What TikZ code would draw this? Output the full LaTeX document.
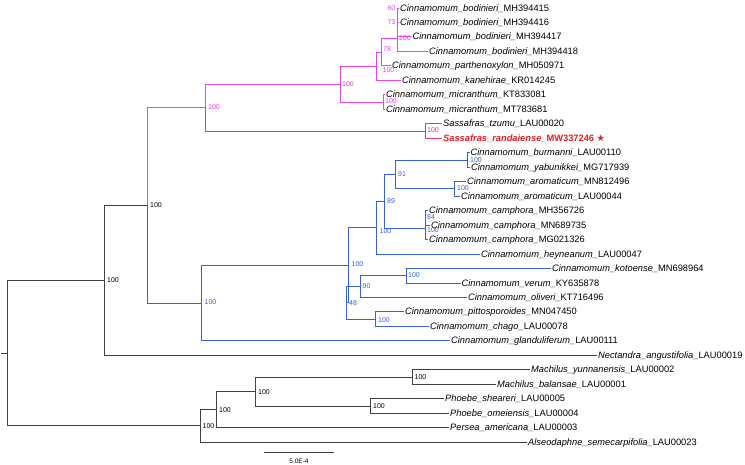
\documentclass[tikz,border=0pt]{standalone}
\usepackage{fontspec}
\setmainfont{Liberation Sans}
\newfontfamily\starfont{DejaVu Sans}
\definecolor{pinkc}{RGB}{238,64,220}
\definecolor{redc}{RGB}{236,56,96}
\definecolor{redtext}{RGB}{228,30,36}
\definecolor{bluec}{RGB}{56,96,216}
\definecolor{grayc}{RGB}{64,64,64}
\newcommand\taxon[2]{\textit{#1\_}#2}
\begin{document}
\begin{tikzpicture}[x=1pt,y=-1pt,
  br/.style={line width=1.25pt, draw=grayc, line cap=rect},
  pinkbr/.style={br, draw=pinkc},
  redbr/.style={br, draw=redc},
  bluebr/.style={br, draw=bluec},
  leaf/.style={anchor=west, inner xsep=1.5pt, inner ysep=0pt, font=\fontsize{9.3}{10}\selectfont, text height=6.7pt, text depth=0pt},
  nl/.style={anchor=west, inner sep=0pt, font=\fontsize{7}{8}\selectfont, text height=5pt, text depth=0pt},
  nlr/.style={nl, anchor=east},
  pl/.style={nl, text=pinkc},
  rl/.style={nl, text=redc},
  bl/.style={nl, text=bluec}]
\fill[white] (0,0) rectangle (745,465);
\useasboundingbox (0,0) rectangle (745,465);
% internal nodes
\coordinate (r0) at (1.5,353.5);
\coordinate (nR) at (7.5,353.5);
\coordinate (nB) at (104.5,280.5);
\coordinate (nC) at (147.5,205.5);
\coordinate (nD) at (205.5,107.5);
\coordinate (nF) at (340.5,84.5);
\coordinate (nG) at (376.5,66.5);
\coordinate (nH) at (381.5,52.5);
\coordinate (nI) at (397.5,38.5);
\coordinate (nM) at (383.5,102.5);
\coordinate (nS) at (425.5,131.5);
\coordinate (nE) at (201.5,303.5);
\coordinate (nP) at (348.5,265.5);
\coordinate (nK) at (376.5,227.5);
\coordinate (n89) at (384.5,201.5);
\coordinate (n91) at (395.5,174.5);
\coordinate (nBu) at (467.5,160.5);
\coordinate (nAr) at (454.5,188.5);
\coordinate (nCa) at (425.5,228.5);
\coordinate (nQ) at (346.5,302.5);
\coordinate (n90) at (360.5,286.5);
\coordinate (nKV) at (406.5,275.5);
\coordinate (nPC) at (375.5,319.5);
\coordinate (nL) at (200.5,425.5);
\coordinate (nL2) at (216.5,409.5);
\coordinate (nL3) at (255.5,391.5);
\coordinate (nMA) at (412.5,377.5);
\coordinate (nPH) at (370.5,406.5);
% leaves
\node[leaf] (t0) at (398.5,8.5) {\taxon{Cinnamomum\_bodinieri}{MH394415}};
\node[leaf] (t1) at (398.5,22.5) {\taxon{Cinnamomum\_bodinieri}{MH394416}};
\node[leaf] (t2) at (411,36.5) {\taxon{Cinnamomum\_bodinieri}{MH394417}};
\node[leaf] (t3) at (427.5,51.5) {\taxon{Cinnamomum\_bodinieri}{MH394418}};
\node[leaf] (t4) at (390.5,65.5) {\taxon{Cinnamomum\_parthenoxylon}{MH050971}};
\node[leaf] (t5) at (400.5,80.5) {\taxon{Cinnamomum\_kanehirae}{KR014245}};
\node[leaf] (t6) at (384.5,94.5) {\taxon{Cinnamomum\_micranthum}{KT833081}};
\node[leaf] (t7) at (384.5,109.5) {\taxon{Cinnamomum\_micranthum}{MT783681}};
\node[leaf] (t8) at (441.5,123.5) {\taxon{Sassafras\_tzumu}{LAU00020}};
\node[leaf, text=redtext] (t9) at (441.5,138.5) {\textbf{\taxon{Sassafras\_randaiense}{MW337246}} {\starfont ★}};
\node[leaf] (t10) at (469,152.5) {\taxon{Cinnamomum\_burmanni}{LAU00110}};
\node[leaf] (t11) at (469.5,167.5) {\taxon{Cinnamomum\_yabunikkei}{MG717939}};
\node[leaf] (t12) at (465.5,181.5) {\taxon{Cinnamomum\_aromaticum}{MN812496}};
\node[leaf] (t13) at (459.5,196.5) {\taxon{Cinnamomum\_aromaticum}{LAU00044}};
\node[leaf] (t14) at (427.5,210.5) {\taxon{Cinnamomum\_camphora}{MH356726}};
\node[leaf] (t15) at (429.5,225.5) {\taxon{Cinnamomum\_camphora}{MN689735}};
\node[leaf] (t16) at (427.5,239.5) {\taxon{Cinnamomum\_camphora}{MG021326}};
\node[leaf] (t17) at (479.5,254.5) {\taxon{Cinnamomum\_heyneanum}{LAU00047}};
\node[leaf] (t18) at (550.5,268.5) {\taxon{Cinnamomum\_kotoense}{MN698964}};
\node[leaf] (t19) at (460,283.5) {\taxon{Cinnamomum\_verum}{KY635878}};
\node[leaf] (t20) at (466.5,297.5) {\taxon{Cinnamomum\_oliveri}{KT716496}};
\node[leaf] (t21) at (403.5,311.5) {\taxon{Cinnamomum\_pittosporoides}{MN047450}};
\node[leaf] (t22) at (428.5,326.5) {\taxon{Cinnamomum\_chago}{LAU00078}};
\node[leaf] (t23) at (449.5,340.5) {\taxon{Cinnamomum\_glanduliferum}{LAU00111}};
\node[leaf] (t24) at (596.5,355.5) {\taxon{Nectandra\_angustifolia}{LAU00019}};
\node[leaf] (t25) at (529.5,369.5) {\taxon{Machilus\_yunnanensis}{LAU00002}};
\node[leaf] (t26) at (495.5,384.5) {\taxon{Machilus\_balansae}{LAU00001}};
\node[leaf] (t27) at (443.5,398.5) {\taxon{Phoebe\_sheareri}{LAU00005}};
\node[leaf] (t28) at (448.5,413.5) {\taxon{Phoebe\_omeiensis}{LAU00004}};
\node[leaf] (t29) at (448.5,427.5) {\taxon{Persea\_americana}{LAU00003}};
\node[leaf] (t30) at (526.5,442.5) {\taxon{Alseodaphne\_semecarpifolia}{LAU00023}};
% branches: backbone
\draw[br] (r0) -- (nR);
\draw[br] (nR) |- (nB);
\draw[br] (nR) |- (nL);
\draw[br] (nB) |- (nC);
\draw[br] (nB) |- (t24.west);
\draw[pinkbr] (nC) |- (nD);
\draw[bluebr] (nC) |- (nE);
% pink clade
\draw[pinkbr] (nD) |- (nF);
\draw[redbr] (nD) |- (nS);
\draw[redbr] (nS) |- (t8.west);
\draw[redbr] (nS) |- (t9.west);
\draw[pinkbr] (nF) |- (nG);
\draw[pinkbr] (nF) |- (nM);
\draw[pinkbr] (nG) |- (nH);
\draw[pinkbr] (nG) |- (t5.west);
\draw[pinkbr] (nH) |- (nI);
\draw[pinkbr] (nH) |- (t4.west);
\draw[pinkbr] (nI) |- (t0.west);
\draw[pinkbr] (nI) |- (t1.west);
\draw[pinkbr] (nI) |- (t2.west);
\draw[pinkbr] (nI) |- (t3.west);
\draw[pinkbr] (nM) |- (t6.west);
\draw[pinkbr] (nM) |- (t7.west);
% blue clade
\draw[bluebr] (nE) |- (nP);
\draw[bluebr] (nE) |- (t23.west);
\draw[bluebr] (nP) |- (nK);
\draw[bluebr] (nP) |- (nQ);
\draw[bluebr] (nK) |- (n89);
\draw[bluebr] (nK) |- (t17.west);
\draw[bluebr] (n89) |- (n91);
\draw[bluebr] (n89) |- (nCa);
\draw[bluebr] (n91) |- (nBu);
\draw[bluebr] (n91) |- (nAr);
\draw[bluebr] (nBu) |- (t10.west);
\draw[bluebr] (nBu) |- (t11.west);
\draw[bluebr] (nAr) |- (t12.west);
\draw[bluebr] (nAr) |- (t13.west);
\draw[bluebr] (nCa) |- (t14.west);
\draw[bluebr] (nCa) |- (t15.west);
\draw[bluebr] (nCa) |- (t16.west);
\draw[bluebr] (nQ) |- (n90);
\draw[bluebr] (nQ) |- (nPC);
\draw[bluebr] (n90) |- (nKV);
\draw[bluebr] (n90) |- (t20.west);
\draw[bluebr] (nKV) |- (t18.west);
\draw[bluebr] (nKV) |- (t19.west);
\draw[bluebr] (nPC) |- (t21.west);
\draw[bluebr] (nPC) |- (t22.west);
% outgroup clade
\draw[br] (nL) |- (nL2);
\draw[br] (nL) |- (t30.west);
\draw[br] (nL2) |- (nL3);
\draw[br] (nL2) |- (t29.west);
\draw[br] (nL3) |- (nMA);
\draw[br] (nL3) |- (nPH);
\draw[br] (nMA) |- (t25.west);
\draw[br] (nMA) |- (t26.west);
\draw[br] (nPH) |- (t27.west);
\draw[br] (nPH) |- (t28.west);
% support values
\node[nlr, text=pinkc] (s60) at (395.5,8) {60};
\node[nlr, text=pinkc] (s73) at (395.5,22.5) {73};
\node[pl] (sI) at (399,38.5) {100};
\node[pl] (sH) at (383,49.5) {78};
\node[pl] (sG) at (382.5,70) {100};
\node[pl] (sF) at (342,84.2) {100};
\node[pl] (sM) at (385,101.5) {100};
\node[pl] (sD) at (208,107.3) {100};
\node[rl] (sS) at (427,130.5) {100};
\node[bl] (sBu) at (470,160) {100};
\node[bl] (s91) at (398,174) {91};
\node[bl] (sAr) at (457,188.5) {100};
\node[bl] (s89) at (387,201) {89};
\node[bl] (s84) at (427,217) {84};
\node[bl] (sCa) at (427,230) {100};
\node[bl] (sK) at (379.5,231) {100};
\node[bl] (sP) at (351.5,264.5) {100};
\node[bl] (sKV) at (408,275.5) {100};
\node[bl] (s90) at (362.5,286.5) {90};
\node[bl] (s48) at (349,303) {48};
\node[bl] (sPC) at (378,320) {100};
\node[bl] (sE) at (204.5,302.5) {100};
\node[nl] (sC) at (150,205) {100};
\node[nl] (sB) at (107,280) {100};
\node[nl] (sL) at (202.5,426) {100};
\node[nl] (sL2) at (219,409.5) {100};
\node[nl] (sL3) at (258,391.5) {100};
\node[nl] (sMA) at (414.5,377) {100};
\node[nl] (sPH) at (373,406) {100};
% scale bar
\coordinate (sb1) at (265,452.5);
\coordinate (sb2) at (333,452.5);
\draw[br] (sb1) -- (sb2);
\node[inner sep=0pt, font=\fontsize{6.5}{7}\selectfont] (sbl) at (299,461) {5.0E-4};
\end{tikzpicture}
\end{document}
